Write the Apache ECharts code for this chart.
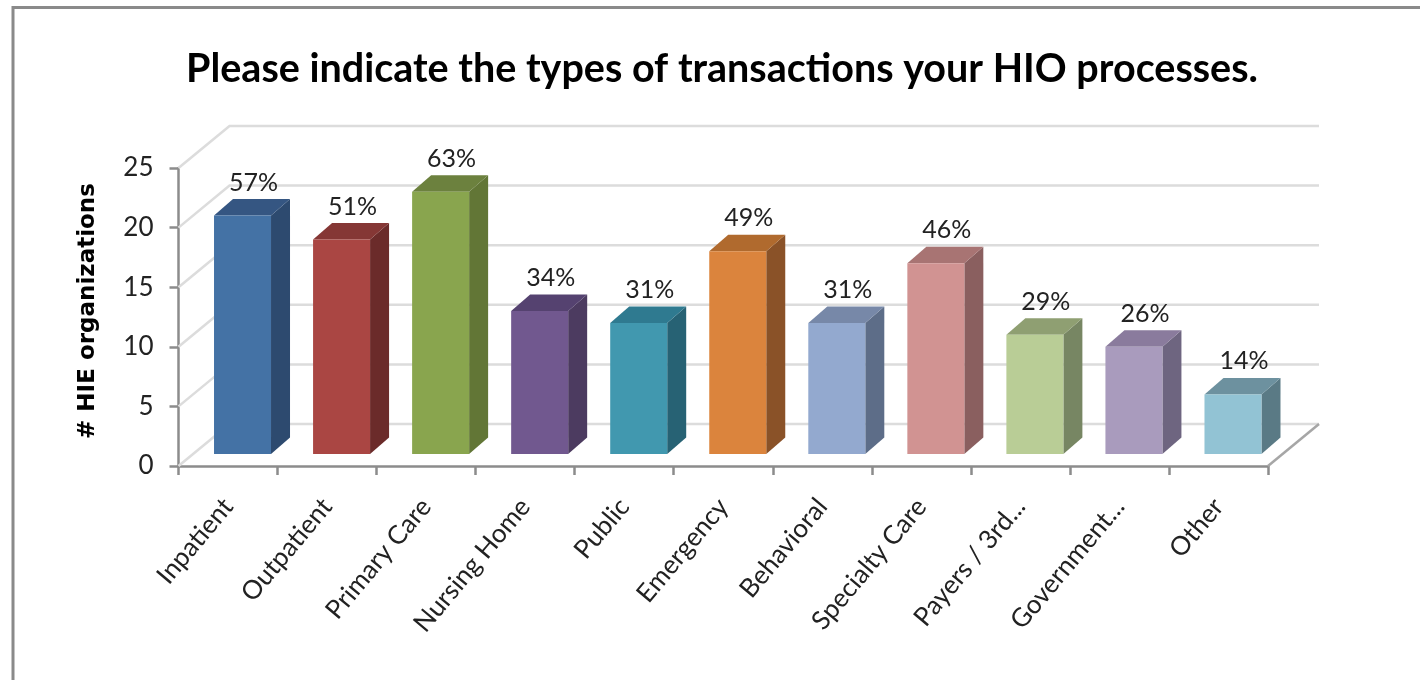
<!DOCTYPE html>
<html>
<head>
<meta charset="utf-8">
<title>HIO transactions</title>
<script src="https://cdn.jsdelivr.net/npm/echarts@6/dist/echarts.min.js"></script>
<style>
  html, body { margin: 0; padding: 0; background: #fff; }
  #chart { width: 1420px; height: 680px; }
</style>
</head>
<body>
<div id="chart"></div>
<script>
const categories = ['Inpatient', 'Outpatient', 'Primary Care', 'Nursing Home', 'Public', 'Emergency',
  'Behavioral', 'Specialty Care', 'Payers / 3rd...', 'Government...', 'Other']
const counts = [20, 18, 22, 12, 11, 17, 11, 16, 10, 9, 5]
const percents = ['57%', '51%', '63%', '34%', '31%', '49%', '31%', '46%', '29%', '26%', '14%']
const yTicks = [0, 5, 10, 15, 20, 25]

// front, top, side
const barColors = [
  ['#4472a5', '#355682', '#2d4a6f'],
  ['#aa4643', '#853735', '#6b2b2a'],
  ['#89a54e', '#6c813e', '#627636'],
  ['#71588f', '#554270', '#4c3b60'],
  ['#4198af', '#2f7a90', '#276274'],
  ['#db843d', '#b06a2e', '#8a5228'],
  ['#93a9cf', '#7788a8', '#5d6d88'],
  ['#d19392', '#a87473', '#8a5f5f'],
  ['#b9cd96', '#8f9f72', '#778663'],
  ['#a99bbd', '#8a7b9d', '#6e6580'],
  ['#92c3d4', '#6d919f', '#5a7a85']
]

// 3d look: wall depth and bar depth in px
const wallDx = 51
const wallDy = -42
const barDx = 19
const barDy = -16.5
const barLift = 12
const barShift = 14.5
const barWidth = 57

const lineStyle = { stroke: '#dcdcdc', lineWidth: 2.5, fill: null }

function renderWall(params, api) {
  const sys = params.coordSys
  const y = api.coord([0, api.value(1)])[1]
  const x0 = sys.x
  const x1 = sys.x + sys.width
  const children = [{
    type: 'polyline',
    shape: { points: [[x0, y], [x0 + wallDx, y + wallDy], [x1 + wallDx, y + wallDy]] },
    style: lineStyle
  }]
  if (api.value(1) === 0) {
    // floor edge on the right
    children.push({
      type: 'line',
      shape: { x1: x1, y1: y, x2: x1 + wallDx, y2: y + wallDy },
      style: { stroke: '#a6a6a6', lineWidth: 2.5 }
    })
  }
  return { type: 'group', children: children }
}

function renderBar(params, api) {
  const i = params.dataIndex
  const c = api.coord([api.value(0), api.value(1)])
  const base = api.coord([api.value(0), 0])
  const left = c[0] - barWidth / 2 + barShift
  const right = left + barWidth
  const top = c[1] - barLift
  const bottom = base[1] - barLift
  const colors = barColors[i]
  return {
    type: 'group',
    children: [
      {
        type: 'polygon',
        shape: { points: [[right, top], [right + barDx, top + barDy], [right + barDx, bottom + barDy], [right, bottom]] },
        style: { fill: colors[2] }
      },
      {
        type: 'polygon',
        shape: { points: [[left, top], [left + barDx, top + barDy], [right + barDx, top + barDy], [right, top]] },
        style: { fill: colors[1] }
      },
      {
        type: 'rect',
        shape: { x: left, y: top, width: barWidth, height: bottom - top },
        style: { fill: colors[0] }
      },
      {
        type: 'text',
        style: {
          text: percents[i],
          x: left + barWidth / 2 + 11,
          y: top - 33,
          textAlign: 'center',
          textVerticalAlign: 'middle',
          fill: '#222',
          font: '25px Lato'
        }
      }
    ]
  }
}

const chart = echarts.init(document.getElementById('chart'), null, { renderer: 'canvas' })
chart.setOption({
  animation: false,
  backgroundColor: '#fff',
  title: {
    text: 'Please indicate the types of transactions your HIO processes.',
    left: 717,
    top: 44,
    textAlign: 'center',
    textStyle: { fontFamily: 'Lato', fontWeight: 'bold', fontSize: 39.5, color: '#000' }
  },
  graphic: [
    { type: 'line', shape: { x1: 12, y1: 7.5, x2: 1420, y2: 7.5 }, style: { stroke: '#8a8a8a', lineWidth: 3 } },
    { type: 'line', shape: { x1: 13, y1: 6, x2: 13, y2: 680 }, style: { stroke: '#8a8a8a', lineWidth: 3 } }
  ],
  grid: { left: 178.5, right: 152, top: 168, bottom: 214 },
  xAxis: {
    type: 'category',
    data: categories,
    axisLine: { lineStyle: { color: '#8c8c8c', width: 2.5 } },
    axisTick: { show: true, length: 9, lineStyle: { color: '#8c8c8c', width: 2.5 } },
    axisLabel: { rotate: 50, interval: 0, margin: 36, fontFamily: 'Lato', fontSize: 26, color: '#222' }
  },
  yAxis: {
    type: 'value',
    min: 0,
    max: 25,
    interval: 5,
    name: '# HIE organizations',
    nameLocation: 'middle',
    nameGap: 79,
    nameTextStyle: { fontFamily: 'DejaVu Sans', fontWeight: 'bold', fontSize: 23, color: '#000', padding: [0, 0, 0, 12] },
    axisLine: { show: true, lineStyle: { color: '#8c8c8c', width: 2.5 } },
    axisTick: { show: true, length: 9, lineStyle: { color: '#8c8c8c', width: 2.5 } },
    axisLabel: { margin: 25, fontFamily: 'Lato', fontSize: 26, color: '#222' },
    splitLine: { show: false }
  },
  series: [
    {
      type: 'custom',
      name: 'wall',
      silent: true,
      z: 1,
      renderItem: renderWall,
      encode: { x: 0, y: 1 },
      data: yTicks.map(v => [0, v])
    },
    {
      type: 'custom',
      name: 'HIE organizations',
      z: 3,
      renderItem: renderBar,
      encode: { x: 0, y: 1 },
      data: counts.map((v, i) => [i, v])
    }
  ]
})
</script>
</body>
</html>
